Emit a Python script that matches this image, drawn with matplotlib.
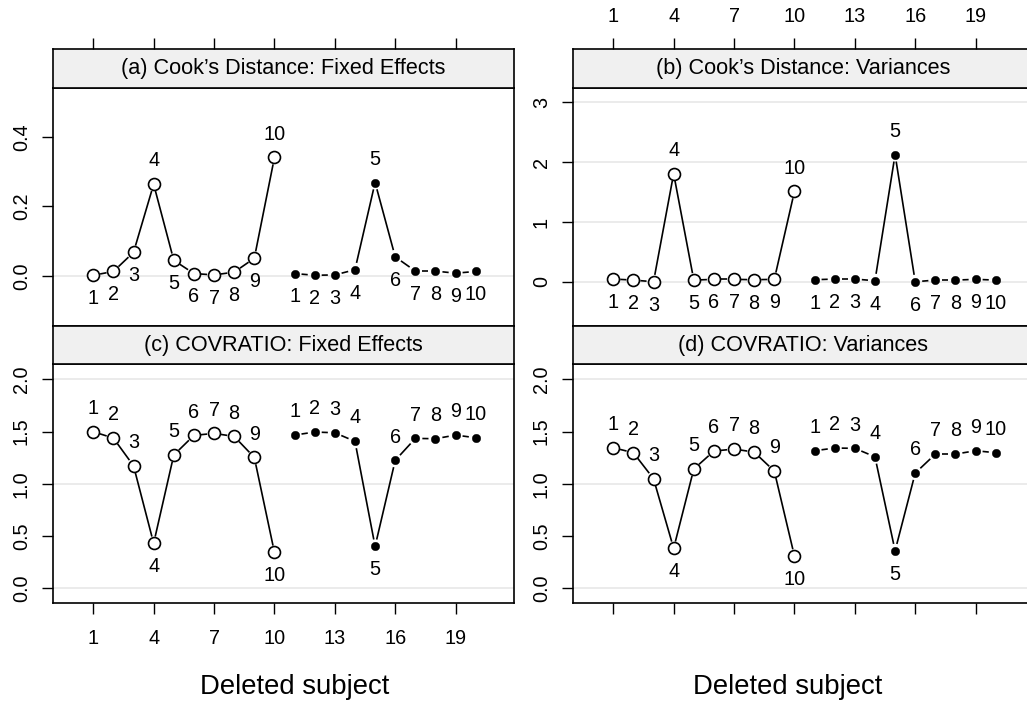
"""
Influence diagnostics panel plot: Cook's distance and COVRATIO
for fixed effects and variance components, by deleted subject.
"""

import matplotlib
matplotlib.use("Agg")
import matplotlib.pyplot as plt
import numpy as np

plt.rcParams["font.family"] = ["Liberation Sans", "DejaVu Sans"]

# Data: deleted subject positions (two groups of 10) and their ids
subjects = list(range(1, 21))
subject_ids = list(range(1, 11)) * 2
x_ticks = [1, 4, 7, 10, 13, 16, 19]

cook_fixed = [0.002, 0.013, 0.068, 0.264, 0.045, 0.007, 0.003, 0.011, 0.051, 0.341,
              0.007, 0.002, 0.003, 0.018, 0.269, 0.055, 0.014, 0.014, 0.008, 0.013]
cook_var = [0.045, 0.028, 0.0, 1.807, 0.028, 0.04, 0.04, 0.034, 0.04, 1.51,
            0.034, 0.045, 0.045, 0.017, 2.126, 0.0, 0.028, 0.028, 0.04, 0.028]
covratio_fixed = [1.499, 1.438, 1.173, 0.431, 1.276, 1.464, 1.483, 1.454, 1.253, 0.344,
                  1.467, 1.496, 1.489, 1.407, 0.402, 1.225, 1.435, 1.432, 1.467, 1.441]
covratio_var = [1.346, 1.298, 1.049, 0.383, 1.142, 1.314, 1.333, 1.304, 1.122, 0.309,
                1.317, 1.343, 1.340, 1.259, 0.360, 1.103, 1.285, 1.285, 1.317, 1.298]

# subjects whose labels sit on the "influential" side of the point
flagged_open = [4, 10]
flagged_filled = [5]

panel_titles = [
    "(a) Cook\u2019s Distance: Fixed Effects",
    "(b) Cook\u2019s Distance: Variances",
    "(c) COVRATIO: Fixed Effects",
    "(d) COVRATIO: Variances",
]
y_ticks = [
    [0.0, 0.2, 0.4],
    [0, 1, 2, 3],
    [0.0, 0.5, 1.0, 1.5, 2.0],
    [0.0, 0.5, 1.0, 1.5, 2.0],
]
y_ticklabels = [
    ["0.0", "0.2", "0.4"],
    ["0", "1", "2", "3"],
    ["0.0", "0.5", "1.0", "1.5", "2.0"],
    ["0.0", "0.5", "1.0", "1.5", "2.0"],
]
ref_lines = [[0], [0, 1, 2, 3], [0, 1, 2], [0, 1, 2]]
y_limits = [(-0.144, 0.541), (-0.74, 3.24), (-0.14, 2.147), (-0.14, 2.147)]
x_label = "Deleted subject"

# Layout in pixels (left, top, right, bottom)
W, H = 1027, 702
DPI = 100
panel_boxes = [(53, 88, 514, 326), (573, 88, 1034, 326),
               (53, 364, 514, 603), (573, 364, 1034, 603)]
strip_boxes = [(53, 49, 514, 88), (573, 49, 1034, 88),
               (53, 326, 514, 364), (573, 326, 1034, 364)]
xlabel_pos = [(295, 687), (788, 687)]
X_LIM = (-1.0, 21.9)

TICK_SIZE = 14.3
LABEL_SIZE = 14.3
STRIP_SIZE = 15.6
BORDER_W = 1.2
GAP_PX = 7.0      # gap left around each point by the connecting lines
LABEL_OFF = 16.8  # points


def fig_box(l, t, r, b):
    return [l / W, 1 - b / H, (r - l) / W, (b - t) / H]


def draw_gapped_lines(ax, xs, ys):
    """Connect consecutive points like R's type='b' (gaps around points)."""
    pts = ax.transData.transform(np.column_stack([xs, ys]))
    inv = ax.transData.inverted()
    for p0, p1 in zip(pts[:-1], pts[1:]):
        d = p1 - p0
        dist = np.hypot(*d)
        if dist <= 2 * GAP_PX:
            continue
        u = d / dist
        a = inv.transform(p0 + u * GAP_PX)
        b = inv.transform(p1 - u * GAP_PX)
        ax.plot([a[0], b[0]], [a[1], b[1]], color="black", lw=1.2,
                solid_capstyle="butt", zorder=2)


fig = plt.figure(figsize=(W / DPI, H / DPI), dpi=DPI)

series = [cook_fixed, cook_var, covratio_fixed, covratio_var]

for i, values in enumerate(series):
    ax = fig.add_axes(fig_box(*panel_boxes[i]))
    ax.set_xlim(*X_LIM)
    ax.set_ylim(*y_limits[i])
    for h in ref_lines[i]:
        ax.axhline(h, color="#e6e6e6", lw=1.1, zorder=0)

    for s in ax.spines.values():
        s.set_linewidth(BORDER_W)

    # y axis on the left, rotated labels
    ax.set_yticks(y_ticks[i])
    ax.set_yticklabels(y_ticklabels[i])
    ax.tick_params(axis="y", direction="out", length=7.9, width=1.0,
                   labelsize=TICK_SIZE, labelrotation=90, pad=8)
    for lab in ax.get_yticklabels():
        lab.set_va("center")

    # x axis: ticks only on bottom row, labels only on panel (c)
    if i >= 2:
        ax.set_xticks(x_ticks)
        ax.tick_params(axis="x", direction="out", length=7.9, width=1.0,
                       labelsize=TICK_SIZE, pad=11, labelbottom=(i == 2))
    else:
        ax.set_xticks([])

    xs = np.array(subjects, dtype=float)
    ys = np.array(values, dtype=float)
    is_cook = i < 2

    # two groups: open circles (1-10) and filled dots (11-20)
    for g, flagged in ((0, flagged_open), (1, flagged_filled)):
        sl = slice(g * 10, g * 10 + 10)
        draw_gapped_lines(ax, xs[sl], ys[sl])
        if g == 0:
            ax.plot(xs[sl], ys[sl], "o", ms=8.6, mfc="white", mec="black",
                    mew=1.2, zorder=3, linestyle="none")
        else:
            ax.plot(xs[sl], ys[sl], "o", ms=6.1, mfc="black", mec="black",
                    mew=0.3, zorder=3, linestyle="none")
        for xv, yv, sid in zip(xs[sl], ys[sl], subject_ids[sl]):
            up = (sid in flagged) == is_cook
            ax.annotate(str(sid), (xv, yv), textcoords="offset points",
                        xytext=(0, LABEL_OFF if up else -LABEL_OFF),
                        ha="center", va="center", fontsize=LABEL_SIZE)

    # strip
    sax = fig.add_axes(fig_box(*strip_boxes[i]))
    sax.set_facecolor("#f0f0f0")
    sax.set_xlim(*X_LIM)
    sax.set_ylim(0, 1)
    sax.set_yticks([])
    for s in sax.spines.values():
        s.set_linewidth(BORDER_W)
    sax.text(0.5, 0.5, panel_titles[i], transform=sax.transAxes,
             ha="center", va="center", fontsize=STRIP_SIZE)
    if i < 2:
        sax.xaxis.tick_top()
        sax.set_xticks(x_ticks)
        sax.tick_params(axis="x", direction="out", length=7.9, width=1.0,
                        labelsize=TICK_SIZE, pad=9, labeltop=(i == 1))
    else:
        sax.set_xticks([])

for px, py in xlabel_pos:
    fig.text(px / W, 1 - py / H, x_label, ha="center", va="center", fontsize=19.8)

fig.savefig("out.png", dpi=DPI, facecolor="white")
